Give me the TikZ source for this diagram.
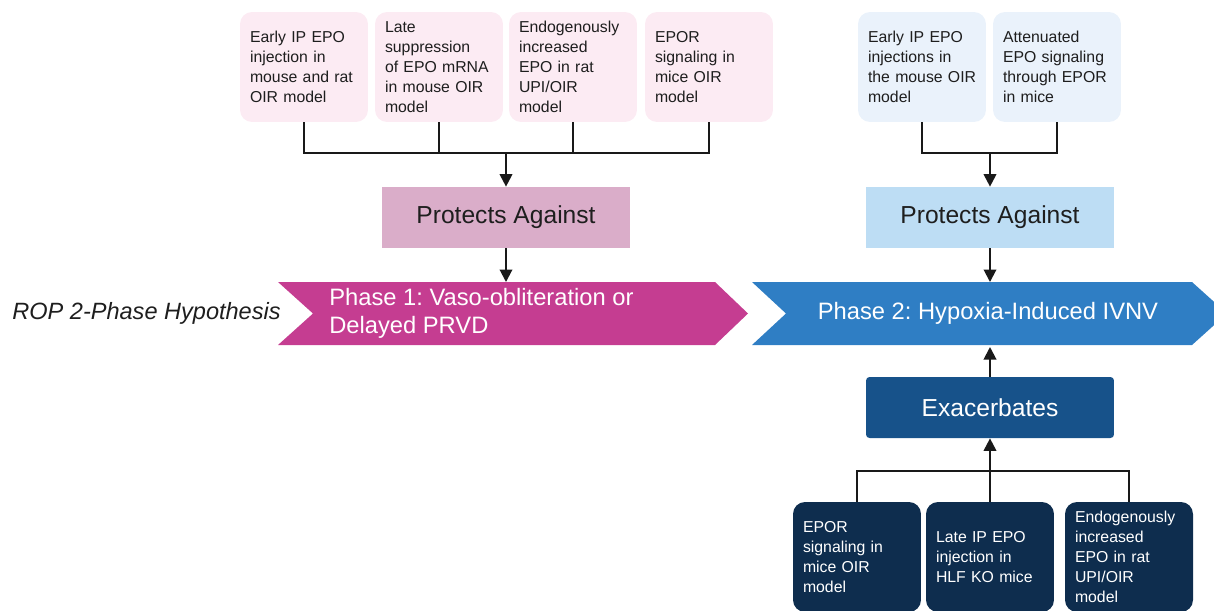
\documentclass[tikz,border=0pt]{standalone}
\usepackage{fontspec}
\setmainfont{Liberation Sans}
\usepackage{xcolor}
\usepackage{tikz}
\usetikzlibrary{arrows.meta,positioning}
\frenchspacing

\definecolor{pinklight}{HTML}{FCEBF3}
\definecolor{pinkmid}{HTML}{DAADC9}
\definecolor{magchev}{HTML}{C53D91}
\definecolor{bluelight}{HTML}{EAF2FB}
\definecolor{bluemid}{HTML}{BDDDF4}
\definecolor{bluechev}{HTML}{2F7EC4}
\definecolor{exacblue}{HTML}{17528A}
\definecolor{navy}{HTML}{0E2D4E}
\definecolor{ink}{HTML}{1E1E1E}

\begin{document}
\begin{tikzpicture}[
    x=0.02cm, y=-0.02cm,
    evid/.style={rounded corners=0.24cm, text width=2.16cm, inner xsep=0.2cm, inner ysep=0pt, minimum height=2.2cm, align=left, text=ink, font=\fontsize{9}{11.4}\selectfont},
    effect/.style={minimum width=4.96cm, minimum height=1.22cm, inner sep=0pt, text=ink, font=\fontsize{14}{16}\selectfont},
    phasetxt/.style={text=white, align=left, inner sep=0pt, font=\fontsize{13.5}{16}\selectfont},
    link/.style={line width=0.04cm, draw=black!90},
    arr/.style={link, -{Triangle[length=2.5mm, width=2.5mm]}},
]
\useasboundingbox (0,0) rectangle (1214,610);
\clip (0,0) rectangle (1214,610);

% phase 1 side
\node[evid, fill=pinklight] (earlyL) at (304,67) {Early IP EPO\\injection in\\mouse~and~rat\\OIR model};
\node[evid, fill=pinklight] (lateL) at (439,67) {Late\\suppression\\of EPO mRNA\\in~mouse~OIR\\model};
\node[evid, fill=pinklight] (endoL) at (573,67) {Endogenously\\increased\\EPO in rat\\UPI/OIR\\model};
\node[evid, fill=pinklight] (eporL) at (709,67) {EPOR\\signaling in\\mice OIR\\model};
\coordinate (joinL) at (506,153);
\node[effect, fill=pinkmid] (protL) at (506,217.5) {Protects Against};
\fill[magchev] (278,282) -- (715,282) -- (748,313.5) -- (715,345) -- (278,345) -- (313,313.5) -- cycle;
\coordinate (ph1top) at (506,282);
\node[phasetxt, anchor=west] (ph1) at (329,313.5) {Phase 1: Vaso-obliteration or\\Delayed PRVD};
\node[inner sep=0pt, anchor=east, text=ink, font=\fontsize{13.4}{16}\selectfont\itshape] (rop) at (281,313.5) {ROP 2-Phase Hypothesis};

% phase 2 side
\node[evid, fill=bluelight] (earlyR) at (922,67) {Early IP EPO\\injections~in\\the~mouse~OIR\\model};
\node[evid, fill=bluelight] (attR) at (1057,67) {Attenuated\\EPO~signaling\\through~EPOR\\in mice};
\coordinate (joinR) at (990,153);
\node[effect, fill=bluemid] (protR) at (990,217.5) {Protects Against};
\fill[bluechev] (752,282) -- (1192,282) -- (1227,313.5) -- (1192,345) -- (752,345) -- (786,313.5) -- cycle;
\coordinate (ph2top) at (990,282);
\coordinate (ph2bot) at (990,347);
\node[phasetxt] (ph2) at (988,313.5) {Phase 2: Hypoxia-Induced IVNV};
\node[effect, fill=exacblue, text=white, rounded corners=2pt] (exac) at (990,407.5) {Exacerbates};
\node[evid, fill=navy, text=white] (eporB) at (857,557) {EPOR\\signaling in\\mice OIR\\model};
\node[evid, fill=navy, text=white] (lateB) at (990,557) {Late IP EPO\\injection in\\HLF~KO~mice};
\node[evid, fill=navy, text=white] (endoB) at (1129,557) {Endogenously\\increased\\EPO in rat\\UPI/OIR\\model};
\coordinate (joinB) at (990,471);

% connectors
\draw[link] (earlyL.south) |- (joinL);
\draw[link] (eporL.south) |- (joinL);
\draw[link] (lateL.south) -- (lateL.south |- joinL);
\draw[link] (endoL.south) -- (endoL.south |- joinL);
\draw[arr] (joinL) -- (protL);
\draw[arr] (protL) -- (ph1top);
\draw[link] (earlyR.south) |- (joinR);
\draw[link] (attR.south) |- (joinR);
\draw[arr] (joinR) -- (protR);
\draw[arr] (protR) -- (ph2top);
\draw[link] (eporB.north) |- (joinB);
\draw[link] (endoB.north) |- (joinB);
\draw[arr] (lateB) -- (exac);
\draw[arr] (exac) -- (ph2bot);
\end{tikzpicture}
\end{document}
